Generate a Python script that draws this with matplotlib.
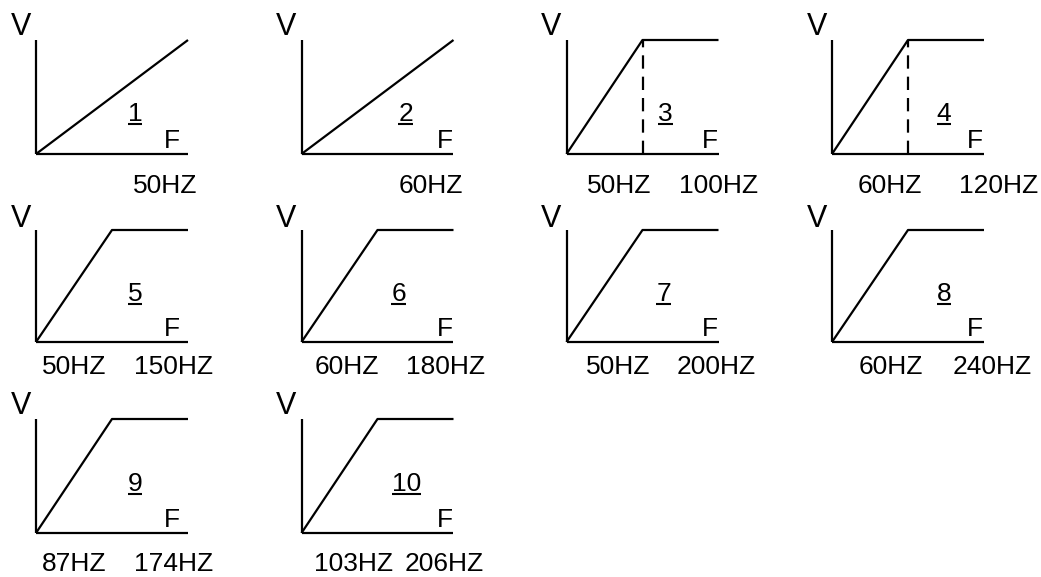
import numpy as np
import matplotlib
matplotlib.use("Agg")
import matplotlib.pyplot as plt
from matplotlib.lines import Line2D

plt.rcParams['font.family'] = ['Liberation Sans', 'DejaVu Sans']

# ---- data ----
curve_ids = ['1', '2', '3', '4', '5', '6', '7', '8', '9', '10']
base_hz = [50, 60, 50, 60, 50, 60, 50, 60, 87, 103]
max_hz = [50, 60, 100, 120, 150, 180, 200, 240, 174, 206]
dashed_at_base = [False, False, True, True, False, False, False, False, False, False]
rated_v = 1.0

# ---- layout (pixels) ----
W, H = 1041, 577
col_x0 = [36, 301.5, 566.5, 832]
row_top = [40, 230, 419]
row_base = [154, 342, 533]
panel_w = 152
v_dy = [-16, -14, -16]
num_dy = [42, 50, 51]
num_dx = [99, 104, 99, 112, 99, 97, 97, 112, 99, 105]
f_dx = [136, 143, 143, 143]
hz_dy = [30, 23, 29]
hz_dx = [[129], [129], [53, 152], [58, 167], [38, 138], [45, 144],
         [52, 150], [59, 160], [38, 138], [52, 143]]

FS = 19
VFS = 22
LW = 1.6

fig = plt.figure(figsize=(W / 100, H / 100), dpi=100)


def fig_xy(x, y):
    return x / W, 1 - y / H


def cap_px(fs):
    return fs * 100 / 72 * 0.716


num_texts = []
for i, cid in enumerate(curve_ids):
    row, col = divmod(i, 4)
    x0 = col_x0[col]
    top, base = row_top[row], row_base[row]
    ax = fig.add_axes([x0 / W, 1 - base / H, panel_w / W, (base - top) / H])
    fb, fm = base_hz[i], max_hz[i]
    if fm > fb:
        knots_f, knots_u = [0, fb, fm], [0, 0.5, 1]
        fs = [0, fb, fm]
        vs = [0, rated_v, rated_v]
    else:
        knots_f, knots_u = [0, fb], [0, 1]
        fs = [0, fb]
        vs = [0, rated_v]

    def fwd(f, kf=knots_f, ku=knots_u):
        return np.interp(f, kf, ku, left=-1, right=2)

    def inv(u, kf=knots_f, ku=knots_u):
        return np.interp(u, ku, kf)

    ax.set_xscale('function', functions=(fwd, inv))
    ax.set_xlim(0, fm)
    ax.set_ylim(0, rated_v)
    ax.axis('off')
    ax.plot([0, 0], [0, rated_v], color='black', lw=LW, clip_on=False, solid_capstyle='butt')
    ax.plot([0, fm], [0, 0], color='black', lw=LW, clip_on=False, solid_capstyle='butt')
    ax.plot(fs, vs, color='black', lw=LW, clip_on=False, solid_capstyle='butt')
    if dashed_at_base[i]:
        ax.plot([fb, fb], [0, rated_v], color='black', lw=LW, clip_on=False,
                linestyle=(0, (6, 3.6)), dash_capstyle='butt')

    fig.text(*fig_xy(x0 - 15, top + v_dy[row] + cap_px(VFS) / 2), 'V',
             fontsize=VFS, ha='center', va='baseline')
    t = fig.text(*fig_xy(x0 + num_dx[i], base - num_dy[row] + cap_px(FS) / 2), cid,
                 fontsize=FS, ha='center', va='baseline')
    num_texts.append((t, base - num_dy[row] + cap_px(FS) / 2))
    fig.text(*fig_xy(x0 + f_dx[col], base - 15 + cap_px(FS) / 2), 'F',
             fontsize=FS, ha='center', va='baseline')
    labels = [f'{fb}HZ'] if fm == fb else [f'{fb}HZ', f'{fm}HZ']
    for lab, dx in zip(labels, hz_dx[i]):
        fig.text(*fig_xy(x0 + dx, base + hz_dy[row] + cap_px(FS) / 2), lab,
                 fontsize=FS, ha='center', va='baseline')

# underline the curve numbers
fig.canvas.draw()
renderer = fig.canvas.get_renderer()
for t, baseline_y in num_texts:
    bb = t.get_window_extent(renderer)
    y = baseline_y + 3
    fig.add_artist(Line2D([bb.x0 / W, bb.x1 / W], [1 - y / H, 1 - y / H],
                          color='black', lw=1.5, transform=fig.transFigure,
                          solid_capstyle='butt'))

fig.savefig('out.png', dpi=100, facecolor='white')
